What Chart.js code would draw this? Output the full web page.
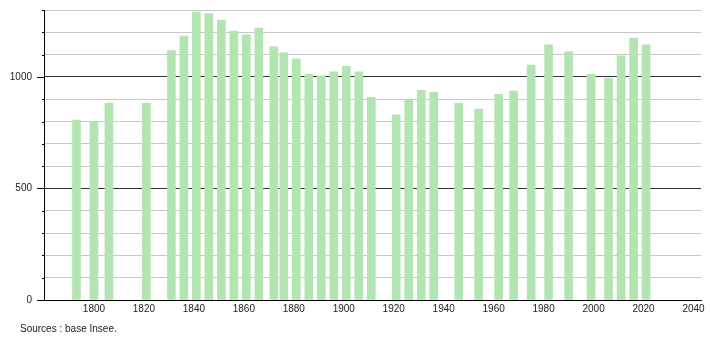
<!DOCTYPE html>
<html>
<head>
<meta charset="utf-8">
<script src="https://cdn.jsdelivr.net/npm/chart.js@4/dist/chart.umd.min.js"></script>
<style>
  html, body { margin: 0; padding: 0; background: #fff; }
  #wrap { width: 710px; height: 340px; }
</style>
</head>
<body>
<div id="wrap"><canvas id="myChart" width="710" height="340"></canvas></div>
<script>
const years = [1793, 1800, 1806, 1821, 1831, 1836, 1841, 1846, 1851, 1856, 1861, 1866, 1872, 1876,
    1881, 1886, 1891, 1896, 1901, 1906, 1911, 1921, 1926, 1931, 1936, 1946, 1954, 1962, 1968,
    1975, 1982, 1990, 1999, 2006, 2011, 2016, 2021];
const population = [806, 799, 883, 882, 1118, 1183, 1291, 1284, 1255, 1206, 1189, 1219, 1135, 1108,
    1081, 1012, 1005, 1023, 1048, 1023, 908, 830, 901, 940, 931, 883, 856, 922, 937,
    1053, 1144, 1113, 1012, 995, 1095, 1174, 1144];
const yLabels = [0, 500, 1000];
const xLabels = [1800, 1820, 1840, 1860, 1880, 1900, 1920, 1940, 1960, 1980, 2000, 2020, 2040];
const sourceText = "Sources : base Insee.";

const font = { family: "'Liberation Sans', Arial, sans-serif", size: 10 };

// small tick marks on the left axis: long for labelled values, short for the rest
const axisTicks = {
    id: "axisTicks",
    afterDraw(chart) {
        const ctx = chart.ctx;
        const y = chart.scales.y;
        const left = chart.chartArea.left;
        ctx.save();
        ctx.strokeStyle = "#000";
        ctx.lineWidth = 1;
        for (let v = 0; v <= 1300; v += 100) {
            const py = Math.round(y.getPixelForValue(v)) + 0.5;
            const len = yLabels.includes(v) ? 7 : 2;
            ctx.beginPath();
            ctx.moveTo(left - len, py);
            ctx.lineTo(left, py);
            ctx.stroke();
        }
        ctx.fillStyle = "#222";
        ctx.font = "10px 'Liberation Sans', Arial, sans-serif";
        ctx.textBaseline = "middle";
        ctx.fillText(sourceText, 20, 329);
        ctx.restore();
    }
};

const data = {
    datasets: [
        {
            data: years.map((yr, i) => ({ x: yr, y: population[i] })),
            backgroundColor: "#b2e5b2",
            borderWidth: 0,
            barThickness: 8,
        },
    ],
};

const config = {
    type: "bar",
    data: data,
    options: {
        responsive: false,
        animation: false,
        layout: { autoPadding: false, padding: { top: 10, right: 9, left: 0, bottom: 0 } },
        plugins: { legend: { display: false }, tooltip: { enabled: false } },
        scales: {
            x: {
                type: "linear",
                min: 1780,
                max: 2043,
                offset: false,
                grid: { display: false, drawTicks: false },
                border: { display: true, color: "#000", width: 1 },
                afterBuildTicks(scale) {
                    scale.ticks = xLabels.map((v) => ({ value: v }));
                },
                ticks: {
                    color: "#222",
                    font: font,
                    padding: 3,
                    maxRotation: 0,
                    autoSkip: false,
                    callback: (v) => String(v),
                },
                afterFit(scale) { scale.height = 40; },
            },
            y: {
                min: 0,
                max: 1300,
                grid: {
                    drawTicks: true,
                    tickLength: 8,
                    tickColor: "rgba(0,0,0,0)",
                    color: (c) => (c.tick.value === 500 || c.tick.value === 1000 ? "#333" : c.tick.value === 0 ? "rgba(0,0,0,0)" : "#c8c8c8"),
                },
                border: { display: true, color: "#000", width: 1 },
                ticks: {
                    stepSize: 100,
                    color: "#222",
                    font: font,
                    padding: 4,
                    autoSkip: false,
                    callback: (v) => (yLabels.includes(v) ? String(v) : ""),
                },
                afterFit(scale) { scale.width = 44; },
            },
        },
    },
    plugins: [axisTicks],
};

new Chart(document.getElementById("myChart"), config);
</script>
</body>
</html>
